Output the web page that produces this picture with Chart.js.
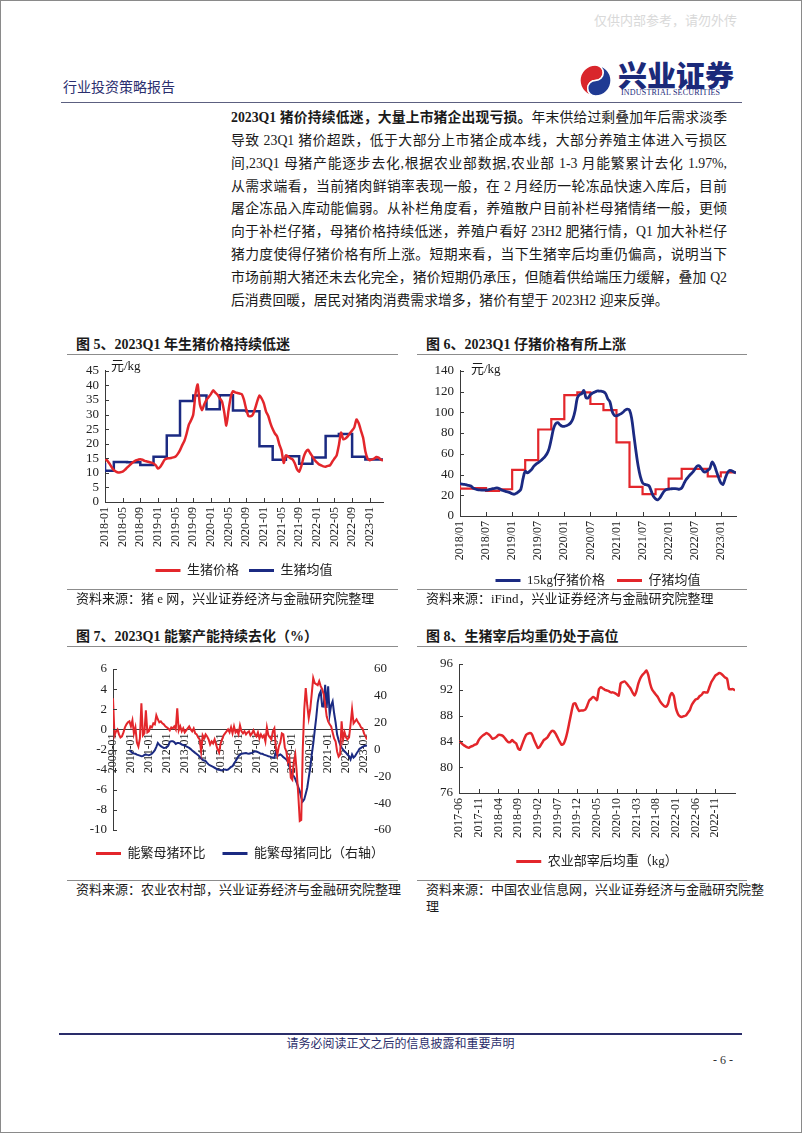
<!DOCTYPE html>
<html>
<head>
<meta charset="utf-8">
<script src="https://cdn.jsdelivr.net/npm/chart.js@4.4.1/dist/chart.umd.min.js"></script>
<style>
body { margin: 0; background: #fff; }
#page { position: relative; width: 802px; height: 1133px; box-sizing: border-box; border: 1px solid #8a8a8a; overflow: hidden;
  font-family: "Liberation Serif", "Noto Sans CJK SC", serif; color: #1a1a1a; }
.abs { position: absolute; white-space: nowrap; }
.ln { position: absolute; left: 230px; width: 496px; font-size: 13.8px; line-height: 16px; text-align: justify; text-align-last: justify; }
.ttl { position: absolute; font-size: 14px; font-weight: bold; line-height: 18px; white-space: nowrap; }
.src { position: absolute; font-size: 13px; line-height: 17px; white-space: nowrap; }
.rule { position: absolute; height: 1px; background: #8c8c8c; }
.unit { position: absolute; font-size: 13px; line-height: 15px; }
canvas { position: absolute; }
</style>
</head>
<body>
<div id="page">
  <div class="abs" style="left:593px;top:9px;font-size:13px;color:#d9d9d9;">仅供内部参考，请勿外传</div>
  <div class="abs" style="left:62px;top:79px;font-size:14px;line-height:16px;color:#2a2e6e;">行业投资策略报告</div>
  <svg class="abs" style="left:577px;top:62px;" width="35" height="35" viewBox="0 0 36 36">
    <path d="M18 2 A16 16 0 0 0 18 34 A8 8 0 0 1 18 18 A8 8 0 0 0 18 2 Z" fill="#d9262c" stroke="#fff" stroke-width="1.5"/>
    <path d="M18 34 A16 16 0 0 0 18 2 A8 8 0 0 1 18 18 A8 8 0 0 0 18 34 Z" fill="#1f3a93" stroke="#fff" stroke-width="1.5"/>
  </svg>
  <div class="abs" style="left:617px;top:57px;font-size:29px;line-height:32px;font-weight:900;color:#1b2a7a;font-family:'Noto Sans CJK SC';">兴业证券</div>
  <div class="abs" style="left:620px;top:87px;font-size:8px;line-height:10px;color:#1b2a7a;letter-spacing:0.2px;">INDUSTRIAL SECURITIES</div>
  <div class="rule" style="left:60px;top:101px;width:681px;background:#5c6080;"></div>

  <div class="ln" style="top:109px;"><b>2023Q1 猪价持续低迷，大量上市猪企出现亏损。</b>年末供给过剩叠加年后需求淡季</div>
  <div class="ln" style="top:132px;">导致 23Q1 猪价超跌，低于大部分上市猪企成本线，大部分养殖主体进入亏损区</div>
  <div class="ln" style="top:155px;">间,23Q1 母猪产能逐步去化,根据农业部数据,农业部 1-3 月能繁累计去化 1.97%,</div>
  <div class="ln" style="top:178px;">从需求端看，当前猪肉鲜销率表现一般，在 2 月经历一轮冻品快速入库后，目前</div>
  <div class="ln" style="top:200px;">屠企冻品入库动能偏弱。从补栏角度看，养殖散户目前补栏母猪情绪一般，更倾</div>
  <div class="ln" style="top:223px;">向于补栏仔猪，母猪价格持续低迷，养殖户看好 23H2 肥猪行情，Q1 加大补栏仔</div>
  <div class="ln" style="top:246px;">猪力度使得仔猪价格有所上涨。短期来看，当下生猪宰后均重仍偏高，说明当下</div>
  <div class="ln" style="top:269px;">市场前期大猪还未去化完全，猪价短期仍承压，但随着供给端压力缓解，叠加 Q2</div>
  <div class="ln" style="top:292px;text-align:left;text-align-last:left;">后消费回暖，居民对猪肉消费需求增多，猪价有望于 2023H2 迎来反弹。</div>

  <div class="ttl" style="left:75px;top:335px;">图 5、2023Q1 年生猪价格持续低迷</div>
  <div class="rule" style="left:66px;top:353px;width:331px;"></div>
  <div class="ttl" style="left:425px;top:335px;">图 6、2023Q1 仔猪价格有所上涨</div>
  <div class="rule" style="left:416px;top:353px;width:330px;"></div>

  <canvas id="c5" width="331" height="230" style="left:65px;top:356px;"></canvas>
  <canvas id="c6" width="331" height="240" style="left:415px;top:356px;"></canvas>
  <div class="unit" style="left:110px;top:357px;">元/kg</div>
  <div class="unit" style="left:470px;top:360px;">元/kg</div>

  <div class="rule" style="left:66px;top:588px;width:331px;"></div>
  <div class="src" style="left:75px;top:589px;">资料来源：猪 e 网，兴业证券经济与金融研究院整理</div>
  <div class="rule" style="left:416px;top:588px;width:330px;"></div>
  <div class="src" style="left:425px;top:589px;">资料来源：iFind，兴业证券经济与金融研究院整理</div>

  <div class="ttl" style="left:75px;top:627px;">图 7、2023Q1 能繁产能持续去化（%）</div>
  <div class="rule" style="left:66px;top:645px;width:331px;"></div>
  <div class="ttl" style="left:425px;top:627px;">图 8、生猪宰后均重仍处于高位</div>
  <div class="rule" style="left:416px;top:645px;width:330px;"></div>

  <canvas id="c7" width="331" height="221" style="left:65px;top:648px;"></canvas>
  <canvas id="c8" width="331" height="229" style="left:415px;top:648px;"></canvas>

  <div class="rule" style="left:66px;top:879px;width:331px;"></div>
  <div class="src" style="left:75px;top:880px;">资料来源：农业农村部，兴业证券经济与金融研究院整理</div>
  <div class="rule" style="left:416px;top:879px;width:330px;"></div>
  <div class="src" style="left:425px;top:880px;">资料来源：中国农业信息网，兴业证券经济与金融研究院整<br>理</div>

  <div class="abs" style="left:58px;top:1032px;width:683px;height:2px;background:#2a2d6a;"></div>
  <div class="abs" style="left:58px;top:1036px;width:683px;text-align:center;font-size:12px;line-height:15px;color:#2a2d6a;">请务必阅读正文之后的信息披露和重要声明</div>
  <div class="abs" style="left:712px;top:1052px;font-size:12px;line-height:15px;color:#333;">- 6 -</div>
</div>

<script>
// 图5 生猪价格（半月），2018-01 起
const red5 = [
  14.9,14.2, 13.2,12.0, 10.9,10.4, 10.1,10.2, 10.4,11.0, 11.8,12.5, 13.2,13.8, 14.3,14.5, 14.7,14.5, 14.1,13.9,
  13.7,13.5, 13.2,12.6, 11.5,12.0, 13.2,14.5, 14.9,15.0, 15.1,15.3, 15.6,16.5, 17.8,19.5, 21.0,23.5, 26.5,28.0,
  30.0,37.0, 40.3,33.5, 31.5,33.5, 35.0,36.0, 37.0,38.3, 37.5,36.8, 35.6,34.5, 31.0,26.2, 31.5,36.0, 38.0,37.6,
  37.4,37.2, 37.0,35.0, 31.8,29.5, 29.4,30.0, 32.0,34.5, 36.5,35.5, 33.8,31.0, 29.5,27.0, 25.0,23.5, 22.5,19.8,
  17.7,13.4, 16.0,15.6, 15.0,14.6, 13.3,11.3, 10.4,12.4, 15.3,17.2, 17.9,16.8, 15.6,14.4, 13.6,12.9, 12.6,12.2,
  12.1,12.4, 12.6,13.8, 14.9,16.0, 19.5,23.8, 21.5,21.8, 22.5,23.6, 24.5,25.6, 28.3,27.0, 24.5,22.0, 17.4,14.9,
  14.3,14.6, 14.9,15.4, 15.2,14.6, 14.2
];
// 图5 生猪均值（分段）
const blue5Dates = ['2018-01','2018-03','2018-06','2018-09','2018-12','2019-03','2019-06','2019-09','2019-12','2020-03','2020-06',
  '2020-09','2020-12','2021-03','2021-06','2021-09','2021-12','2022-03','2022-06','2022-09','2022-12','2023-03'];
const blue5 = [13.4, 10.7, 13.7, 13.6, 12.7, 15.5, 22.8, 34.6, 36.5, 31.8, 36.6, 31.4, 31.1, 19.1, 14.5, 15.7, 13.1, 15.3, 22.6, 23.3, 15.5, 14.6];
const x5Labels = ['2018-01','2018-05','2018-09','2019-01','2019-05','2019-09','2020-01','2020-05','2020-09','2021-01','2021-05',
  '2021-09','2022-01','2022-05','2022-09','2023-01'];

// 图6 15kg仔猪价格（半月），2018/01 起
const blue6 = [
  31.0,30.8, 30.5,30.0, 29.5,28.9, 27.0,26.0, 25.5,25.2, 25.0,24.9, 25.0,25.3, 25.8,26.3, 26.6,27.0, 26.5,25.2,
  24.5,23.8, 23.2,22.5, 21.5,21.0, 22.0,23.5, 25.8,36.0, 43.0,41.5, 43.0,45.0, 48.0,50.0, 51.5,53.0, 55.0,57.0,
  60.0,65.0, 74.0,84.0, 89.0,90.0, 88.0,86.5, 86.5,87.0, 88.0,90.0, 94.0,102.0, 114.0,117.0, 118.0,121.0, 114.0,114.0,
  117.0,118.5, 119.5,120.5, 120.5,120.3, 119.8,118.0, 113.0,110.0, 101.0,97.0, 96.5,97.5, 98.5,100.0, 102.0,103.0, 102.0,94.0,
  78.0,62.0, 48.0,38.0, 32.0,30.5, 30.0,29.0, 24.0,19.0, 16.5,15.6, 17.5,21.0, 24.0,25.5, 26.0,26.2, 26.4,26.4,
  26.2,25.8, 27.0,31.0, 35.0,37.5, 40.0,42.0, 45.0,48.0, 48.5,46.0, 43.0,42.5, 44.0,46.0, 52.0,49.0, 43.0,37.0,
  32.0,30.5, 36.0,41.4, 44.0,43.6, 42.5,41.4
];
// 图6 仔猪均值（季度）
const red6Dates = ['2018/01','2018/04','2018/07','2018/10','2019/01','2019/04','2019/07','2019/10','2020/01','2020/04','2020/07',
  '2020/10','2021/01','2021/04','2021/07','2021/10','2022/01','2022/04','2022/07','2022/10','2023/01','2023/04'];
const red6 = [30.5, 26.4, 26.8, 24.3, 25.8, 44.5, 53.8, 83.4, 93.5, 116.5, 119.2, 108.0, 102.0, 71.0, 28.0, 21.0, 25.8, 36.0, 45.4, 45.4, 38.3, 42.0];
const x6Labels = ['2018/01','2018/07','2019/01','2019/07','2020/01','2020/07','2021/01','2021/07','2022/01','2022/07','2023/01'];

// 图7 能繁母猪环比（%，月度，2009-01 起）
const red7 = [
  3.1, -0.6, -0.2, 0.0, -0.5, -0.8, -0.7, -0.3, 0.2, 0.5, 0.7, 0.8,
  0.3, 0.9, -0.4, 0.2, -1.3, -1.7, -0.9, 2.6, -0.6, -0.4, 1.9, -0.3,
  -0.2, 0.3, 0.2, 0.6, 0.5, 1.4, 1.0, 0.7, 0.8, 0.6, 0.5, 0.3,
  0.2, 0.1, -0.1, 0.2, 0.1, 0.3, 0.0, 2.1, -0.1, 0.3, -0.2, 0.1,
  -0.3, -0.1, 0.1, 0.3, 0.0, -0.2, 0.1, -0.4, -0.5, -0.8, -1.0, -2.2,
  -0.6, -0.9, -0.5, -0.7, -1.0, -1.5, -1.2, -1.4, -1.0, -1.5, -2.0, -2.3,
  -1.4, -1.0, -0.6, -0.4, -0.2, 0.0, -0.3, 0.2, -0.4, 0.3, -0.3, -0.1,
  -0.5, 0.4, -0.2, -0.4, -0.2, -0.5, -0.3, -0.2, -0.6, -0.4, -0.1, -0.5,
  -0.7, -0.3, -0.9, -0.5, -0.8, -0.6, -1.2, 0.2, -0.6, -0.8, -1.0, -0.2,
  0.1, -1.8, -2.5, -1.7, -1.3, -0.4, -0.5, -1.8, -2.2, -3.2, -2.8, -4.8,
  -5.0, -3.2, -2.5, -4.3, -6.5, -9.1, -9.0, -2.0, 2.0, 4.1, 2.4, 1.1,
  2.0, 3.5, 5.1, 4.6, 4.5, 4.4, 4.8, 4.3, 4.0, 3.5, 2.5, 1.3,
  0.8, 0.5, 0.3, -0.3, -0.9, -1.2, -2.2, -2.7, -2.5, 0.8, -1.0, -0.3,
  -0.8, -1.0, -0.8, 0.5, 2.0, 0.6, 0.8, 1.0, 0.7, 0.5, 0.2, 0.1,
  -0.4, -0.7, -1.0
];
// 图7 能繁母猪同比（%，右轴，2009-12 起）
const blue7Start = '2009-12';
const blue7 = [
  -0.5,
  -1.5, -2.5, -3.0, -3.2, -3.8, -4.2, -4.6, -5.0, -4.8, -4.0, -3.7, -4.0,
  -4.2, -3.8, -3.2, -2.0, -0.5, 2.0, 4.9, 3.5, 2.5, 1.8, 1.2, 1.3,
  1.7, 2.8, 5.7, 6.2, 6.2, 5.5, 4.2, 4.8, 4.9, 4.5, 3.7, 3.4,
  3.0, 2.4, 1.8, 1.2, 0.3, -0.8, -1.6, -2.5, -3.3, -4.2, -5.4, -6.7,
  -7.7, -8.2, -8.7, -10.0, -11.2, -11.8, -12.4, -13.0, -13.6, -14.2, -14.9, -15.2,
  -15.4, -15.4, -15.0, -14.9, -15.2, -14.9, -14.0, -13.0, -12.4, -10.5, -8.7, -6.8,
  -5.0, -4.0, -3.2, -3.0, -2.8, -2.7, -3.0, -3.2, -2.8, -2.5, -2.0, -1.3,
  -1.5, -2.0, -2.6, -3.2, -3.2, -3.8, -4.2, -4.6, -5.0, -5.3, -5.7, -6.0,
  -6.2, -1.5, -5.0, -4.2, -3.7, -4.5, -5.7, -6.5, -7.4, -9.0, -12.4, -16.0,
  -19.0, -19.8, -22.0, -24.8, -28.0, -31.0, -36.0, -38.7, -37.2, -33.0, -28.5, -21.0,
  -13.6, -4.0, 4.0, 14.0, 23.5, 35.0, 41.0, 43.4, 32.2, 32.0, 48.3, 31.0,
  47.1, 26.0, 33.0, 35.9, 27.0, 20.0, 11.1, 7.0, 3.7, 1.5, 0.0, -1.5,
  -2.5, -4.0, -5.0, -7.4, -3.7, -6.0, -5.0, -3.0, -1.3, 0.5, 1.2, 2.0,
  2.5, 2.8, 3.0
];
const x7Labels = ['2009-01','2010-01','2011-01','2012-01','2013-01','2014-01','2015-01','2016-01','2017-01','2018-01','2019-01',
  '2020-01','2021-01','2022-01','2023-01'];

// 图8 农业部宰后均重（kg，半月，2017-06 起）
const red8 = [
  84.1,83.8, 83.5,83.3, 83.1,83.0, 83.2,83.3, 83.5,83.6, 84.2,84.6, 84.9,85.1, 85.3,85.1, 84.8,84.4, 84.5,84.7,
  85.0,85.0, 84.9,84.6, 84.2,83.9, 83.9,84.2, 83.9,83.7, 82.9,82.7, 83.5,84.3, 85.0,85.2, 85.3,85.1, 84.3,83.6,
  83.0,83.2, 83.7,84.2, 84.4,84.7, 85.2,85.6, 85.6,85.2, 84.6,84.0, 83.5,83.6, 84.3,85.5, 87.0,88.5, 89.8,89.9,
  89.2,88.7, 88.8,88.8, 88.9,89.5, 90.3,90.6, 90.9,90.7, 90.4,92.1, 92.4,92.2, 92.0,91.9, 91.8,91.6, 91.6,91.5,
  91.3,91.1, 93.0,93.2, 93.3,93.0, 92.6,92.2, 91.6,91.1, 91.8,93.0, 93.8,94.3, 94.6,95.0, 94.3,92.9, 92.0,91.6,
  91.2,90.8, 90.2,89.8, 89.5,89.4, 89.8,91.0, 91.5,91.0, 89.2,88.3, 87.9,87.8, 87.9,88.0, 88.4,88.8, 89.6,90.1,
  90.5,90.6, 91.0,91.2, 91.6,91.6, 91.6,92.4, 93.2,93.7, 94.2,94.4, 94.6,94.5, 94.2,93.9, 93.7,92.1, 92.1,92.1,
  91.9
];
const x8Labels = ['2017-06','2017-11','2018-04','2018-09','2019-02','2019-07','2019-12','2020-05','2020-10','2021-03','2021-08',
  '2022-01','2022-06','2022-11'];

const RED = '#e3262b', NAVY = '#1b2a82', AXIS = '#3a3a3a', TXT = '#222';
Chart.defaults.font.family = '"Liberation Serif", "Noto Sans CJK SC", serif';
Chart.defaults.font.size = 13;
Chart.defaults.color = TXT;

function monthIdx(s, base) {
  const [y, m] = s.split(/[-\/]/).map(Number);
  const [by, bm] = base.split(/[-\/]/).map(Number);
  return (y - by) * 12 + (m - bm);
}
function stepPoints(dates, vals, base, endX) {
  const pts = dates.map((d, i) => ({ x: monthIdx(d, base), y: vals[i] }));
  pts.push({ x: endX, y: vals[vals.length - 1] });
  return pts;
}

// short tick marks drawn inside the plot, like the original
const innerTicks = {
  id: 'innerTicks',
  afterDraw(chart, args, opts) {
    const ctx = chart.ctx;
    ctx.save();
    ctx.strokeStyle = AXIS;
    ctx.lineWidth = 1;
    (opts.axes || []).forEach(id => {
      const sc = chart.scales[id];
      sc.ticks.forEach((t, i) => {
        const p = Math.round(sc.getPixelForTick(i)) + 0.5;
        ctx.beginPath();
        if (sc.isHorizontal()) { ctx.moveTo(p, sc.top); ctx.lineTo(p, sc.top - 4); }
        else { ctx.moveTo(sc.right, p); ctx.lineTo(sc.right + 4, p); }
        ctx.stroke();
      });
    });
    ctx.restore();
  }
};
// legend centred under the plot area rather than the whole canvas (width kept, so no wrapping)
const legendUnderPlot = {
  id: 'legendUnderPlot',
  afterLayout(chart) {
    const lg = chart.legend;
    if (!lg) return;
    const dx = (chart.chartArea.left + chart.chartArea.right) / 2 - (lg.left + lg.right) / 2;
    lg.left += dx;
    lg.right += dx;
  }
};

function xAxis(labels, base, max, height) {
  return {
    type: 'linear', min: 0, max,
    grid: { display: false, drawTicks: false },
    border: { display: true, color: AXIS, width: 1 },
    ticks: { autoSkip: false, minRotation: 90, maxRotation: 90, padding: 5, font: { size: 12 }, callback: (v, i) => labels[i] },
    afterBuildTicks: s => { s.ticks = labels.map(l => ({ value: monthIdx(l, base) })); },
    afterFit: s => { if (height != null) s.height = height; }
  };
}
function yAxis(min, max, step, width, extra) {
  return Object.assign({
    min, max,
    grid: { display: false, drawTicks: false },
    border: { display: true, color: AXIS, width: 1 },
    ticks: { stepSize: step, autoSkip: false, padding: 6, font: { size: 13 } },
    afterFit: s => { s.width = width; }
  }, extra || {});
}
function legend(pad) {
  return {
    position: 'bottom',
    labels: {
      boxWidth: 25, boxHeight: 3, padding: pad, color: TXT, font: { size: 13 },
      generateLabels: ch => Chart.defaults.plugins.legend.labels.generateLabels(ch).map(l => Object.assign(l, { lineWidth: 0 }))
    }
  };
}
function line(label, data, color, width, extra) {
  return Object.assign({ label, data, borderColor: color, backgroundColor: color, borderWidth: width, pointRadius: 0, fill: false }, extra || {});
}
const common = { responsive: false, animation: false, devicePixelRatio: 1 };

// 图5
new Chart(document.getElementById('c5'), {
  type: 'line',
  plugins: [innerTicks, legendUnderPlot],
  data: { datasets: [
    line('生猪价格', red5.map((v, i) => ({ x: i / 2, y: v })), RED, 2.5, { tension: 0.2 }),
    line('生猪均值', stepPoints(blue5Dates, blue5, '2018-01', (red5.length - 1) / 2), NAVY, 2.5, { stepped: 'after' })
  ]},
  options: Object.assign({}, common, {
    layout: { padding: { left: 0, right: 14, top: 12, bottom: 0 } },
    scales: { x: xAxis(x5Labels, '2018-01', (red5.length - 1) / 2, 52), y: yAxis(0, 45, 5, 39) },
    plugins: { legend: legend(10), tooltip: { enabled: false }, innerTicks: { axes: ['x', 'y'] } }
  })
});

// 图6
new Chart(document.getElementById('c6'), {
  type: 'line',
  plugins: [innerTicks, legendUnderPlot],
  data: { datasets: [
    line('15kg仔猪价格', blue6.map((v, i) => ({ x: i / 2, y: v })), NAVY, 2.8, { tension: 0.35 }),
    line('仔猪均值', stepPoints(red6Dates, red6, '2018/01', (blue6.length - 1) / 2), RED, 2.2, { stepped: 'after' })
  ]},
  options: Object.assign({}, common, {
    layout: { padding: { left: 0, right: 11, top: 8, bottom: 0 } },
    scales: { x: xAxis(x6Labels, '2018/01', (blue6.length - 1) / 2, 46), y: yAxis(0, 140, 20, 44) },
    plugins: { legend: legend(12), tooltip: { enabled: false }, innerTicks: { axes: ['x', 'y'] } }
  })
});

// 图7
const x7 = xAxis(x7Labels, '2009-01', red7.length - 1, null);
x7.position = { y: 0 };
x7.ticks.padding = 4;
new Chart(document.getElementById('c7'), {
  type: 'line',
  plugins: [innerTicks, legendUnderPlot],
  data: { datasets: [
    line('能繁母猪环比', red7.map((v, i) => ({ x: i, y: v })), RED, 2, { yAxisID: 'y' }),
    line('能繁母猪同比（右轴）', blue7.map((v, i) => ({ x: monthIdx(blue7Start, '2009-01') + i, y: v })), NAVY, 2, { yAxisID: 'y1' })
  ]},
  options: Object.assign({}, common, {
    layout: { padding: { left: 0, right: 0, top: 20, bottom: 0 } },
    scales: {
      x: x7,
      y: yAxis(-10, 6, 2, 47, { position: 'left' }),
      y1: yAxis(-60, 60, 20, 30, { position: 'right', border: { display: false }, ticks: { stepSize: 20, autoSkip: false, padding: 7, font: { size: 13 } } })
    },
    plugins: { legend: legend(17), tooltip: { enabled: false }, innerTicks: { axes: ['y'] } }
  })
});

// 图8
new Chart(document.getElementById('c8'), {
  type: 'line',
  plugins: [innerTicks, legendUnderPlot],
  data: { datasets: [
    line('农业部宰后均重（kg）', red8.map((v, i) => ({ x: i / 2, y: v })), RED, 2.5, { tension: 0.2 })
  ]},
  options: Object.assign({}, common, {
    layout: { padding: { left: 0, right: 12, top: 15, bottom: 0 } },
    scales: { x: xAxis(x8Labels, '2017-06', (red8.length - 1) / 2, 52), y: yAxis(76, 96, 4, 43) },
    plugins: { legend: legend(10), tooltip: { enabled: false }, innerTicks: { axes: ['x', 'y'] } }
  })
});
</script>
</body>
</html>
